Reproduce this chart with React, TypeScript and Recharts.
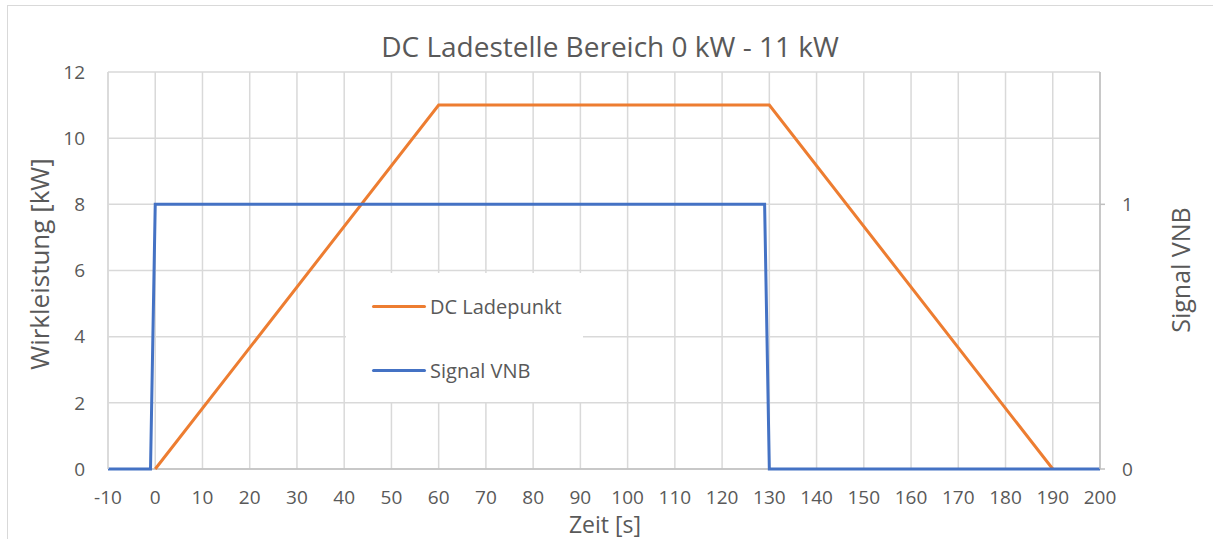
import React from "react";
import { CartesianGrid, Line, LineChart, XAxis, YAxis } from "recharts";

// DC charging point power curve
const ladepunktTime = [0, 60, 130, 190];
const ladepunktKw = [0, 11, 11, 0];

// grid operator (VNB) signal, on the right axis
const signalTime = [-10, -1, 0, 129, 130, 200];
const signalValue = [0, 0, 1, 1, 0, 0];

const xTicks = [-10, 0, 10, 20, 30, 40, 50, 60, 70, 80, 90, 100, 110, 120, 130, 140, 150, 160, 170, 180, 190, 200];
const leftTicks = [0, 2, 4, 6, 8, 10, 12];
const rightTicks = [0, 1];

const seriesNames = ["DC Ladepunkt", "Signal VNB"];

const FONT = "'Open Sans', 'Noto Sans', sans-serif";
const TEXT = "#595959";
const ORANGE = "#ED7D31";
const BLUE = "#4472C4";

const ladepunktData = ladepunktTime.map((t, i) => ({ t, kw: ladepunktKw[i] }));
const signalData = signalTime.map((t, i) => ({ t, signal: signalValue[i] }));

const tickStyle = { fill: TEXT, fontSize: 19, fontFamily: FONT };

function LegendBox() {
  const colors = [ORANGE, BLUE];
  return (
    <div
      style={{
        position: "absolute",
        left: 346,
        top: 273,
        width: 237,
        height: 129,
        background: "#fff",
      }}
    >
      {seriesNames.map((name, i) => (
        <div
          key={name}
          style={{
            position: "absolute",
            left: 26,
            top: 33 + i * 64 - 15,
            height: 30,
            display: "flex",
            alignItems: "center",
            whiteSpace: "nowrap",
          }}
        >
          <div style={{ width: 54, height: 3, background: colors[i], borderRadius: 2, marginRight: 4 }} />
          <span style={{ fontSize: 20, color: TEXT }}>{name}</span>
        </div>
      ))}
    </div>
  );
}

export default function App() {
  return (
    <div
      style={{
        position: "absolute",
        left: 0,
        top: 0,
        width: 1213,
        height: 539,
        overflow: "hidden",
        background: "#fff",
        fontFamily: FONT,
        color: TEXT,
      }}
    >
      <div
        style={{
          position: "absolute",
          left: 7,
          top: 5,
          width: 1230,
          height: 560,
          border: "1px solid #d9d9d9",
        }}
      />
      <LineChart
        width={1213}
        height={539}
        margin={{ top: 72, right: 65, left: 60, bottom: 40 }}
        style={{ position: "absolute", left: 0, top: 0 }}
      >
        <CartesianGrid yAxisId="left" stroke="#d9d9d9" strokeWidth={1.5} />
        {/* darker baseline drawn as grid so the series sit on top of it */}
        <CartesianGrid
          yAxisId="left"
          vertical={false}
          stroke="#bfbfbf"
          strokeWidth={1.5}
          horizontalCoordinatesGenerator={({ offset }: any) => [offset.top + offset.height]}
        />
        <XAxis
          dataKey="t"
          type="number"
          domain={[-10, 200]}
          ticks={xTicks}
          interval={0}
          allowDuplicatedCategory={false}
          height={30}
          tickLine={false}
          tickSize={6}
          tickMargin={16}
          axisLine={false}
          tick={tickStyle}
        />
        <YAxis
          yAxisId="left"
          domain={[0, 12]}
          ticks={leftTicks}
          width={48}
          tickLine={false}
          tickSize={6}
          tickMargin={17}
          axisLine={{ stroke: "#d9d9d9", strokeWidth: 1.5 }}
          tick={tickStyle}
        />
        <YAxis
          yAxisId="right"
          orientation="right"
          domain={[0, 1.5]}
          ticks={rightTicks}
          width={48}
          tickLine={{ stroke: "#bfbfbf", strokeWidth: 1.5 }}
          tickSize={5}
          tickMargin={17}
          axisLine={{ stroke: "#bfbfbf", strokeWidth: 1.5 }}
          tick={tickStyle}
        />
        <Line
          yAxisId="left"
          data={ladepunktData}
          dataKey="kw"
          type="linear"
          stroke={ORANGE}
          strokeWidth={3}
          dot={false}
          isAnimationActive={false}
          name={seriesNames[0]}
        />
        <Line
          yAxisId="right"
          data={signalData}
          dataKey="signal"
          type="linear"
          stroke={BLUE}
          strokeWidth={3}
          dot={false}
          isAnimationActive={false}
          name={seriesNames[1]}
        />
      </LineChart>

      <div
        style={{
          position: "absolute",
          left: 310,
          width: 600,
          top: 27,
          textAlign: "center",
          fontSize: 28,
          lineHeight: "38px",
          whiteSpace: "nowrap",
        }}
      >
        DC Ladestelle Bereich 0 kW - 11 kW
      </div>
      <div
        style={{
          position: "absolute",
          left: 505,
          width: 200,
          top: 512,
          textAlign: "center",
          fontSize: 23,
          lineHeight: "24px",
        }}
      >
        Zeit [s]
      </div>
      <div
        style={{
          position: "absolute",
          left: 39 - 150,
          top: 264 - 16,
          width: 300,
          height: 32,
          textAlign: "center",
          fontSize: 26,
          lineHeight: "32px",
          transform: "rotate(-90deg)",
          whiteSpace: "nowrap",
        }}
      >
        Wirkleistung [kW]
      </div>
      <div
        style={{
          position: "absolute",
          left: 1180 - 150,
          top: 270 - 16,
          width: 300,
          height: 32,
          textAlign: "center",
          fontSize: 25,
          lineHeight: "32px",
          transform: "rotate(-90deg)",
          whiteSpace: "nowrap",
        }}
      >
        Signal VNB
      </div>
      <LegendBox />
    </div>
  );
}
